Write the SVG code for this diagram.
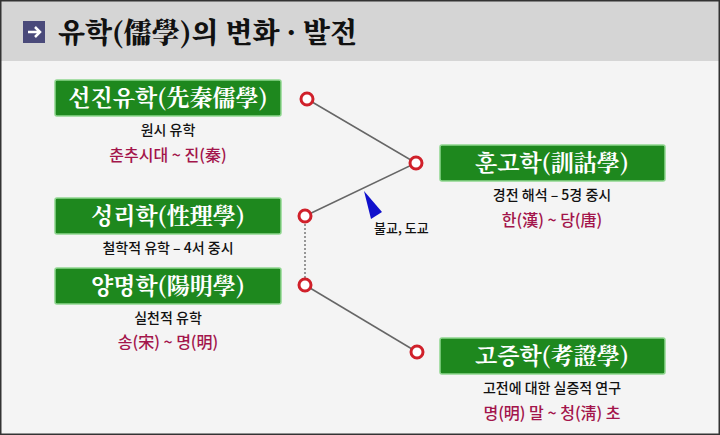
<svg xmlns="http://www.w3.org/2000/svg" width="720" height="435" viewBox="0 0 720 435">
<style>
.box{fill:#1e881e;stroke:#8fd68f;stroke-width:1.5}
.bt{font-family:"Noto Serif CJK KR","Noto Sans CJK KR",serif;font-size:23px;font-weight:bold;fill:#fff;text-anchor:middle}
.s1{font-family:"Noto Sans CJK KR",sans-serif;font-size:14px;font-weight:500;fill:#111;text-anchor:middle}
.s2{font-family:"Noto Sans CJK KR",sans-serif;font-size:16px;font-weight:500;fill:#a3154b;text-anchor:middle}
.dot{fill:#fff;stroke:#d0202a;stroke-width:3}
.ln{stroke:#666;stroke-width:1.5;fill:none}
</style>
<rect x="0" y="0" width="720" height="435" fill="#f4f4f4"/>
<rect x="0" y="0" width="720" height="61" fill="#d5d5d5"/>
<rect x="0.75" y="0.75" width="718.5" height="433.5" fill="none" stroke="#333" stroke-width="1.5"/>
<g id="title">
<rect x="23" y="21" width="22" height="22" fill="#4a4a7a"/>
<path d="M28 32 H40 M35 27 L40 32 L35 37" stroke="#fff" stroke-width="2.5" fill="none"/>
<text x="58" y="43" font-family="Noto Serif CJK KR,Noto Sans CJK KR,serif" font-weight="900" font-size="28" fill="#111">유학(儒學)의 변화 · 발전</text>
</g>
<g id="connectors">
<path class="ln" d="M307 99 L416 163 L305 216"/>
<path class="ln" d="M305 285 L417 352"/>
<path d="M305 216 V285" stroke="#777" stroke-width="1.5" stroke-dasharray="2 2"/>
<polygon points="364,191 382,212 371,219" fill="#1010cc"/>
<text x="374" y="233" font-family="Noto Sans CJK KR,sans-serif" font-size="13" font-weight="500" fill="#111">불교, 도교</text>
<circle class="dot" cx="307" cy="99" r="6"/>
<circle class="dot" cx="416" cy="163" r="6"/>
<circle class="dot" cx="305" cy="216" r="6"/>
<circle class="dot" cx="305" cy="285" r="6"/>
<circle class="dot" cx="417" cy="352" r="6"/>
</g>
<g id="n1"><rect class="box" x="55" y="80" width="226" height="36" rx="2"/><text class="bt" x="168" y="106">선진유학(先秦儒學)</text>
<text class="s1" x="168" y="135">원시 유학</text><text class="s2" x="168" y="161">춘추시대 ~ 진(秦)</text></g>
<g id="n2"><rect class="box" x="55" y="198" width="226" height="36" rx="2"/><text class="bt" x="168" y="224">성리학(性理學)</text>
<text class="s1" x="168" y="253">철학적 유학 – 4서 중시</text></g>
<g id="n3"><rect class="box" x="55" y="268" width="226" height="36" rx="2"/><text class="bt" x="168" y="294">양명학(陽明學)</text>
<text class="s1" x="168" y="323">실천적 유학</text><text class="s2" x="168" y="348">송(宋) ~ 명(明)</text></g>
<g id="n4"><rect class="box" x="440" y="145" width="225" height="36" rx="2"/><text class="bt" x="552" y="171">훈고학(訓詁學)</text>
<text class="s1" x="552" y="200">경전 해석 – 5경 중시</text><text class="s2" x="552" y="226">한(漢) ~ 당(唐)</text></g>
<g id="n5"><rect class="box" x="440" y="338" width="225" height="36" rx="2"/><text class="bt" x="552" y="364">고증학(考證學)</text>
<text class="s1" x="552" y="393">고전에 대한 실증적 연구</text><text class="s2" x="552" y="419">명(明) 말 ~ 청(淸) 초</text></g>
</svg>
